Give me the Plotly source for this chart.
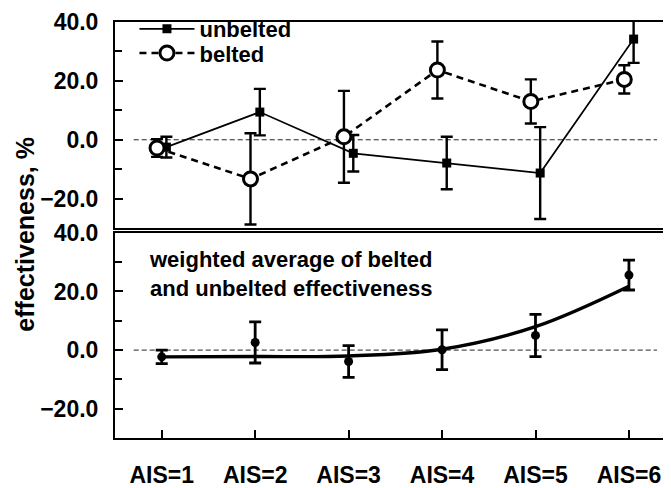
import plotly.graph_objects as go

# ---------------- data ----------------
ais = [1, 2, 3, 4, 5, 6]
tick_labels = ["AIS=1", "AIS=2", "AIS=3", "AIS=4", "AIS=5", "AIS=6"]

unbelted = [-2.5, 9.4, -4.6, -7.9, -11.3, 34.2]
unbelted_err = [3.5, 7.9, 6.2, 8.9, 15.6, 8.1]

belted = [-2.8, -13.3, 1.0, 23.7, 13.0, 20.5]
belted_err = [3.0, 15.5, 15.6, 9.7, 7.5, 4.8]

weighted = [-2.3, 2.6, -3.9, 0.1, 5.0, 25.6]
weighted_err = [2.3, 7.0, 5.4, 6.8, 7.2, 5.1]
weighted_fit = [-2.3, -2.2, -2.0, 0.3, 8.0, 21.8]

offset = 0.05
FONT = "Liberation Sans, Arial, sans-serif"

fig = go.Figure()

# top panel
fig.add_trace(go.Scatter(
    x=[a + offset for a in ais], y=unbelted, name="unbelted", legend="legend",
    mode="lines+markers",
    line=dict(color="black", width=1.7),
    marker=dict(symbol="square", size=9, color="black"),
    error_y=dict(type="data", array=unbelted_err, color="black", thickness=2.4, width=6),
    xaxis="x", yaxis="y",
))
fig.add_trace(go.Scatter(
    x=[a - offset for a in ais], y=belted, name="belted", legend="legend2",
    mode="lines+markers",
    line=dict(color="black", width=2.6, dash="7px,5px"),
    marker=dict(symbol="circle", size=14, color="white", line=dict(color="black", width=3)),
    error_y=dict(type="data", array=belted_err, color="black", thickness=2.4, width=6),
    xaxis="x", yaxis="y",
))

# bottom panel
fig.add_trace(go.Scatter(
    x=ais, y=weighted_fit, mode="lines", showlegend=False,
    line=dict(color="black", width=3.4, shape="spline", smoothing=1.0),
    xaxis="x2", yaxis="y2",
))
fig.add_trace(go.Scatter(
    x=ais, y=weighted, mode="markers", showlegend=False,
    marker=dict(symbol="circle", size=9, color="black"),
    error_y=dict(type="data", array=weighted_err, color="black", thickness=2.8, width=6),
    xaxis="x2", yaxis="y2",
))

# zero reference lines
for xr, yr in (("x", "y"), ("x2", "y2")):
    fig.add_shape(type="line", xref=xr, yref=yr, x0=0.7, x1=6.3, y0=0, y1=0,
                  line=dict(color="#222222", width=1, dash="5px,3px"), layer="below")

xrange = [0.5, 6.45]
yaxis_common = dict(
    range=[-30, 40], tick0=0, dtick=20, tickformat=".1f",
    ticks="inside", ticklen=8, tickwidth=2, tickcolor="black",
    minor=dict(ticks="inside", ticklen=7, tickwidth=2, dtick=10, tick0=0, tickcolor="black"),
    showline=True, linecolor="black", linewidth=2, mirror=False,
    showgrid=False, zeroline=False, ticklabelstandoff=10,
    tickfont=dict(family=FONT, size=23, color="black", weight="bold"),
)

legend_common = dict(x=0.035, xanchor="left", yanchor="middle",
                     bgcolor="rgba(0,0,0,0)", itemwidth=55,
                     font=dict(family=FONT, size=22, color="black", weight="bold"))

fig.update_layout(
    width=663, height=480,
    margin=dict(l=107, r=0, t=7, b=37),
    paper_bgcolor="white", plot_bgcolor="white",
    xaxis=dict(domain=[0, 1], range=xrange, anchor="y",
               showline=True, linecolor="black", linewidth=2, mirror=True,
               showticklabels=False, ticks="", showgrid=False, zeroline=False),
    yaxis=dict(domain=[0.5046, 1.0], anchor="x", **yaxis_common),
    xaxis2=dict(domain=[0, 1], range=xrange, anchor="y2",
                tickvals=ais, ticktext=tick_labels,
                ticks="inside", ticklen=8, tickwidth=2, tickcolor="black",
                showline=True, linecolor="black", linewidth=2, mirror=True,
                showgrid=False, zeroline=False, ticklabelstandoff=15,
                tickfont=dict(family=FONT, size=23, color="black", weight="bold")),
    yaxis2=dict(domain=[0, 0.4931], anchor="x2", **yaxis_common),
    showlegend=True,
    legend=dict(y=0.983, **legend_common),
    legend2=dict(y=0.925, **legend_common),
    annotations=[
        dict(text="effectiveness, %", xref="paper", yref="paper", x=-0.161, y=0.49,
             textangle=-90, showarrow=False, xanchor="center", yanchor="middle",
             font=dict(family=FONT, size=25, color="black", weight="bold")),
        dict(text="weighted average of belted<br>and unbelted effectiveness",
             xref="paper", yref="paper", x=0.058, y=0.465, xanchor="left", yanchor="top",
             align="left", showarrow=False,
             font=dict(family=FONT, size=22, color="black", weight="bold")),
    ],
)

fig.write_html("out.html")
